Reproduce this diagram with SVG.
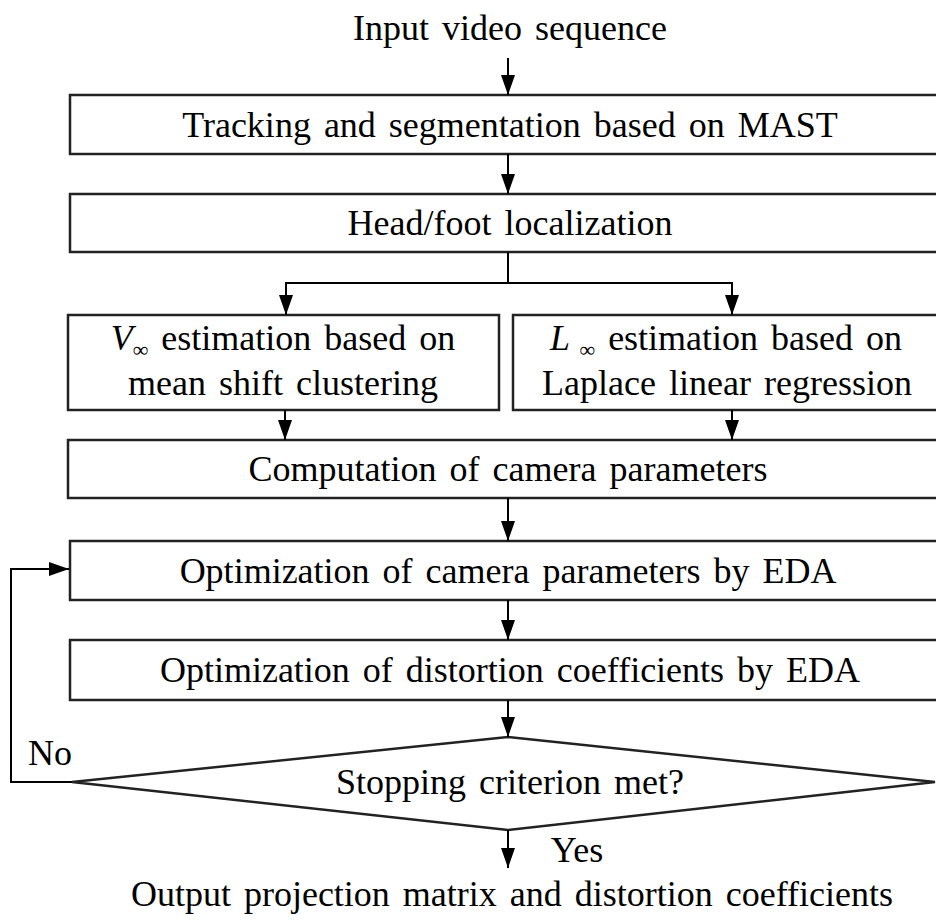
<svg xmlns="http://www.w3.org/2000/svg" width="936" height="922" viewBox="0 0 936 922">
<defs>
<marker id="ah" viewBox="0 0 20 14" refX="20" refY="7" markerWidth="20" markerHeight="14" markerUnits="userSpaceOnUse" orient="auto">
<path d="M0,0 L20,7 L0,14 Z" fill="#000"/>
</marker>
</defs>
<style>
text{font-family:"Liberation Serif","Times New Roman",serif;font-size:36px;fill:#000;text-anchor:middle;word-spacing:4px}
.box{fill:#fff;stroke:#222;stroke-width:2.5}
.ln{fill:none;stroke:#000;stroke-width:2}
.arr{fill:none;stroke:#000;stroke-width:2;marker-end:url(#ah)}
</style>
<rect width="936" height="922" fill="#fff"/>
<g id="input"><text x="510" y="40">Input video sequence</text></g>
<g id="n1"><rect class="box" x="70" y="95" width="870" height="59"/><text x="510" y="137">Tracking  and  segmentation  based on MAST</text></g>
<g id="n2"><rect class="box" x="70" y="194" width="870" height="58"/><text x="510" y="235">Head/foot  localization</text></g>
<g id="n3a"><rect class="box" x="68" y="315" width="431" height="95"/><text x="283" y="350"><tspan font-style="italic">V</tspan><tspan font-size="22" dy="7">∞</tspan><tspan dy="-7"> estimation  based on</tspan></text><text x="283" y="395">mean  shift  clustering</text></g>
<g id="n3b"><rect class="box" x="513" y="315" width="427" height="95"/><text x="726" y="350"><tspan font-style="italic">L</tspan><tspan font-size="22" dy="7"> ∞</tspan><tspan dy="-7"> estimation  based on</tspan></text><text x="727" y="395">Laplace  linear  regression</text></g>
<g id="n4"><rect class="box" x="68" y="440" width="872" height="58"/><text x="508" y="481">Computation  of camera  parameters</text></g>
<g id="n5"><rect class="box" x="70" y="541" width="870" height="59"/><text x="508" y="583">Optimization  of camera  parameters  by EDA</text></g>
<g id="n6"><rect class="box" x="70" y="640" width="870" height="60"/><text x="510" y="682">Optimization  of distortion  coefficients  by EDA</text></g>
<g id="n7"><path class="box" d="M508,737 L935,782 L508,830 L72,782 Z"/><text x="510" y="794">Stopping  criterion  met?</text></g>
<g id="output"><text x="512" y="906">Output projection  matrix  and distortion  coefficients</text></g>
<g id="connectors">
<line class="arr" x1="508" y1="58" x2="508" y2="95"/>
<line class="arr" x1="508" y1="154" x2="508" y2="194"/>
<line class="ln" x1="508" y1="252" x2="508" y2="283"/>
<line class="ln" x1="285" y1="283" x2="733" y2="283"/>
<line class="arr" x1="286" y1="282" x2="286" y2="315"/>
<line class="arr" x1="732" y1="282" x2="732" y2="315"/>
<line class="arr" x1="285" y1="410" x2="285" y2="440"/>
<line class="arr" x1="732" y1="410" x2="732" y2="440"/>
<line class="arr" x1="508" y1="498" x2="508" y2="541"/>
<line class="arr" x1="508" y1="600" x2="508" y2="640"/>
<line class="arr" x1="508" y1="700" x2="508" y2="737"/>
<polyline class="arr" points="72,782 11,782 11,569 69,569"/>
<line class="arr" x1="508" y1="830" x2="508" y2="868"/>
<text x="50" y="765" style="word-spacing:0">No</text>
<text x="577" y="862" style="word-spacing:0">Yes</text>
</g>
</svg>
